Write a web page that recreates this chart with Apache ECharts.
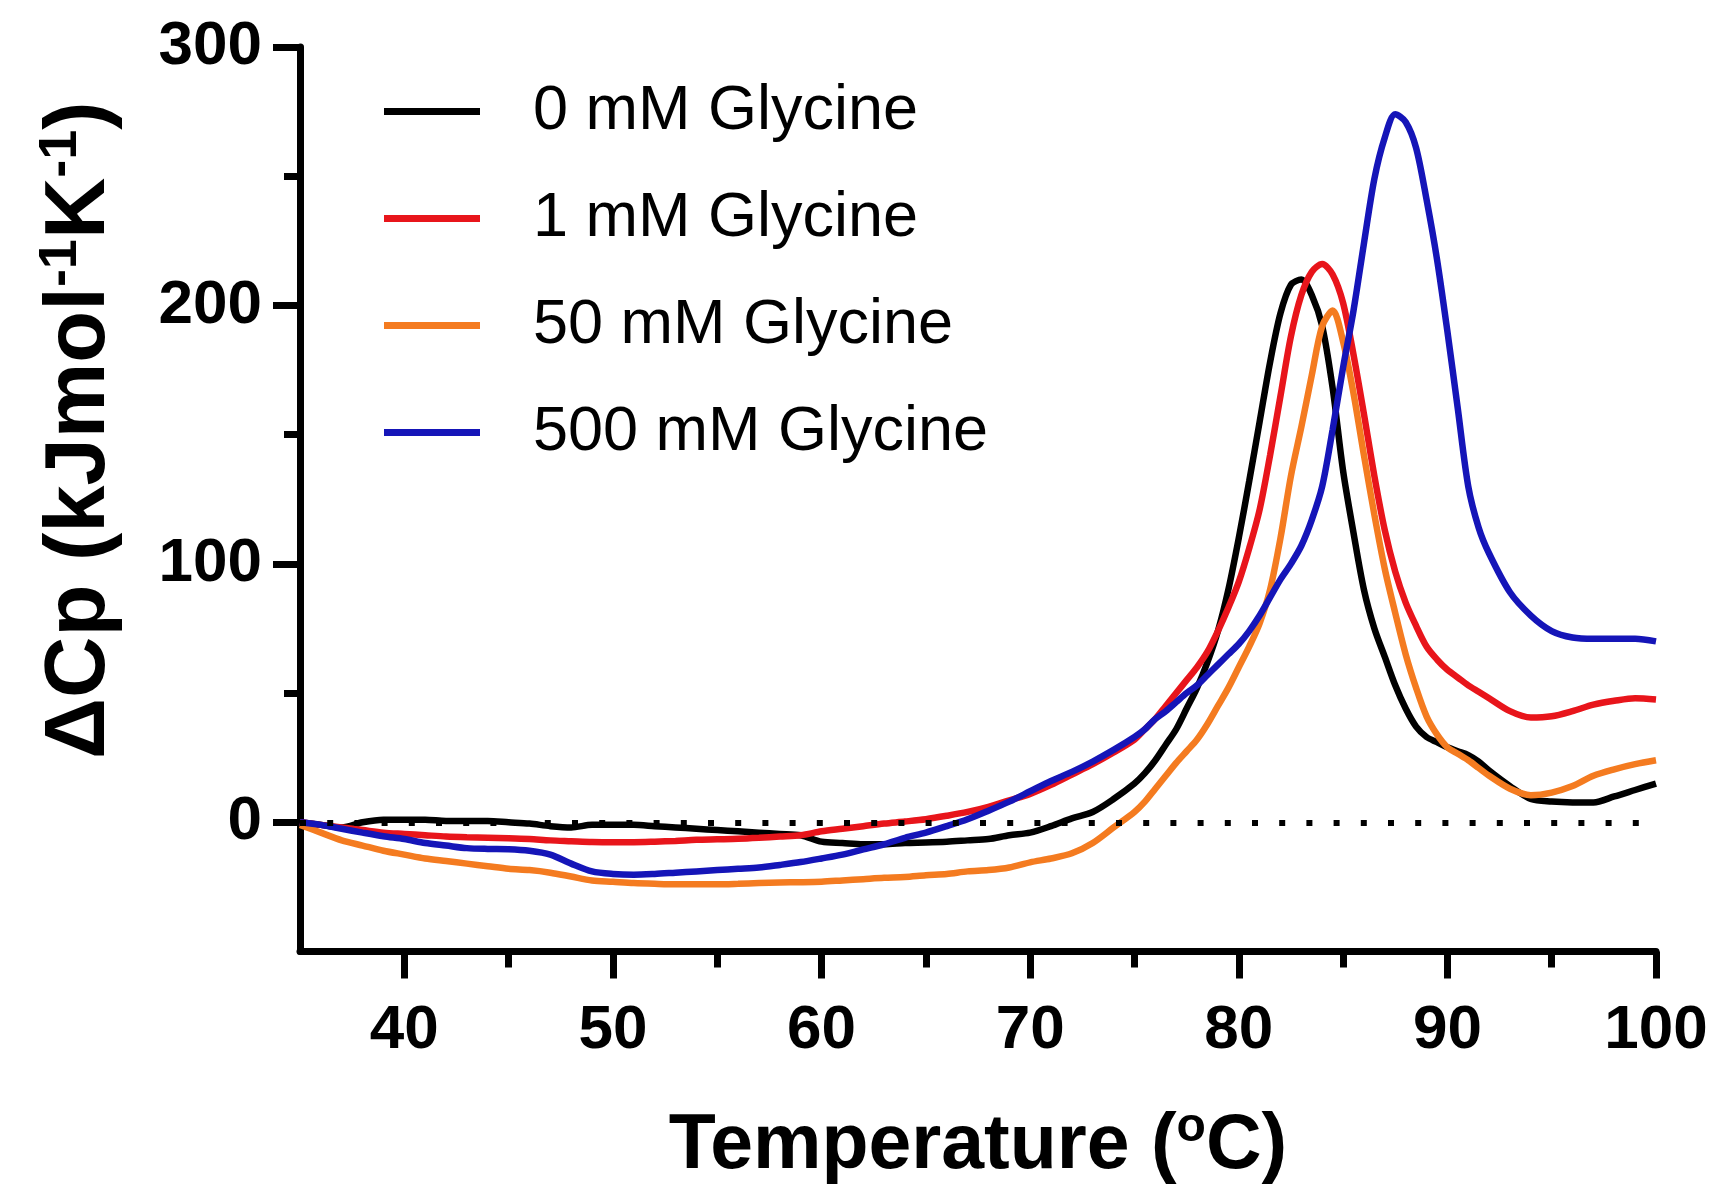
<!DOCTYPE html>
<html>
<head>
<meta charset="utf-8">
<script src="https://cdn.jsdelivr.net/npm/echarts@6/dist/echarts.min.js"></script>
<style>
    html, body { margin: 0; padding: 0; background: #fff; }
    #chart { width: 1722px; height: 1190px; }
</style>
</head>
<body>
<div id="chart"></div>
<script>
// temperature grid (°C) shared by all curves
var temps = [35, 36, 37, 38, 39, 40, 41, 42, 43, 44, 45, 46, 47, 48, 49, 50, 51, 52, 53, 54,
    55, 56, 57, 58, 59, 60, 61, 62, 63, 64, 65, 66, 67, 68, 69, 70, 71, 72, 73, 74, 75,
    75.5, 76, 76.5, 77, 77.5, 78, 78.5, 79, 79.5, 80, 80.5, 81, 81.5, 82, 82.5, 83, 83.5,
    84, 84.5, 85, 85.5, 86, 86.5, 87, 87.5, 88, 88.5, 89, 89.5, 90, 90.5, 91, 91.5, 92,
    93, 94, 95, 96, 97, 98, 99, 100];

// 0 mM Glycine
var cp0 = [0, -1, -2, 0, 1, 1, 1, 0.5, 0.5, 0.5, 0, -0.5, -1.5, -2, -1, -1, -1, -1.5, -2, -2.5,
    -3, -3.5, -4, -4.5, -5, -7.5, -8, -8.5, -8.5, -8, -7.8, -7.5, -7, -6.5, -5, -4, -1.5, 1.5, 4, 9, 15,
    19, 24, 30, 36, 44, 52, 62, 74, 90, 110, 132, 155, 178, 197, 208, 210, 204,
    192, 168, 136, 112, 90, 75, 64, 53, 44, 37, 33, 31, 29, 27.5, 26, 23.5, 20,
    14, 9, 8, 7.7, 7.7, 10, 12.5, 15];

// 1 mM Glycine
var cp1 = [0, -1, -2, -3, -4, -4.5, -5, -5.5, -5.8, -6, -6.2, -6.5, -7, -7.3, -7.6, -7.7, -7.7, -7.5, -7.2, -6.8,
    -6.6, -6.4, -6, -5.5, -5, -3.5, -2.5, -1.5, -0.5, 0.3, 1.2, 2.5, 4, 6, 8.5, 11, 14.5, 18.5, 22.5, 27, 32,
    36, 40, 45, 50, 55, 60, 66, 74, 83, 93, 106, 121, 142, 165, 188, 204, 213,
    216, 212, 201, 181, 158, 134, 113, 97, 85, 76, 68, 63, 59, 56, 53, 50.5, 48,
    43, 40.5, 41, 43, 45.5, 47, 48, 47.5];

// 50 mM Glycine
var cp50 = [-1, -4, -7, -9, -11, -12.5, -14, -15, -16, -17, -18, -18.5, -19.5, -21, -22.5, -23, -23.5, -23.8, -24, -24,
    -24, -23.8, -23.5, -23.3, -23.2, -23, -22.5, -22, -21.5, -21.2, -20.5, -20, -19, -18.5, -17.5, -15.5, -14, -12, -8, -2, 4,
    8, 13, 18, 23, 27.5, 32, 38, 45, 52, 60, 68, 77, 90, 110, 134, 153, 173,
    192, 198, 186, 166, 142, 119, 98, 81, 65, 52, 41, 34, 29, 26.5, 24, 21, 18,
    13, 10.5, 11.5, 14, 18, 20.5, 22.5, 24];

// 500 mM Glycine
var cp500 = [0, -1, -2.5, -4, -5.4, -6.5, -8, -9, -10, -10.3, -10.4, -11, -12.5, -16, -19, -20, -20.3, -20, -19.5, -19,
    -18.5, -18, -17.5, -16.5, -15.4, -14, -12.5, -10.5, -8.5, -6, -4, -1.5, 1.2, 4.5, 8, 12, 16, 19.5, 23.5, 28, 33,
    36, 40, 43, 46.5, 50, 53, 57, 61, 65, 69, 74, 80, 87, 94, 100, 107, 117,
    130, 152, 176, 198, 224, 249, 265, 274, 271, 261, 241, 218, 190, 160, 130, 114, 104,
    89, 80, 74, 71.5, 71, 71, 71, 70];

var seriesNames = ['0 mM Glycine', '1 mM Glycine', '50 mM Glycine', '500 mM Glycine'];
var seriesColors = ['#000000', '#e8151b', '#f47b20', '#1515b8'];
var seriesValues = [cp0, cp1, cp50, cp500];

// axis ticks and labels
var xMajor = [40, 50, 60, 70, 80, 90, 100];
var xMinor = [45, 55, 65, 75, 85, 95];
var yMajor = [0, 100, 200, 300];
var yMinor = [50, 150, 250];

var font = '"Liberation Sans", Arial, sans-serif';

var myChart = echarts.init(document.getElementById('chart'));

// pair each temperature with its value
function toPairs(values) {
    var out = [];
    for (let i = 0; i < temps.length; i++) {
        out.push([temps[i], values[i]]);
    }
    return out;
}

var series = [];
for (let i = 0; i < seriesNames.length; i++) {
    series.push({
        name: seriesNames[i],
        type: 'line',
        data: toPairs(seriesValues[i]),
        showSymbol: false,
        symbol: 'none',
        smooth: 0.3,
        color: seriesColors[i],
        lineStyle: { width: 6.5, color: seriesColors[i] }
    });
}
// dotted zero baseline
series[3].markLine = {
    silent: true,
    symbol: 'none',
    label: { show: false },
    lineStyle: { color: '#000', width: 6, type: [6, 21.2], cap: 'butt' },
    data: [{ yAxis: 0 }]
};

var option = {
    backgroundColor: '#fff',
    animation: false,
    textStyle: { fontFamily: font },
    grid: { left: 300, right: 66, top: 47, bottom: 237, containLabel: false },
    legend: {
        data: seriesNames,
        orient: 'vertical',
        left: 379,
        top: 75,
        icon: 'rect',
        itemWidth: 96,
        itemHeight: 7,
        itemGap: 44,
        textStyle: {
            fontFamily: font,
            fontSize: 63,
            lineHeight: 60,
            color: '#000',
            padding: [0, 0, 0, 48]
        }
    },
    xAxis: [
        {
            type: 'value',
            min: 35,
            max: 100,
            position: 'bottom',
            name: '{a|Temperature (}{s|o}{a|C)}',
            nameLocation: 'middle',
            nameGap: 152,
            nameTextStyle: {
                rich: {
                    a: { fontFamily: font, fontSize: 77, fontWeight: 'bold', color: '#000', lineHeight: 86 },
                    s: { fontFamily: font, fontSize: 48, fontWeight: 'bold', color: '#000', verticalAlign: 'top', lineHeight: 50 }
                }
            },
            axisLine: { onZero: false, lineStyle: { color: '#000', width: 7 } },
            axisTick: { customValues: xMajor, length: 27, lineStyle: { color: '#000', width: 7 } },
            axisLabel: {
                customValues: xMajor,
                margin: 48,
                fontFamily: font,
                fontSize: 62,
                fontWeight: 'bold',
                color: '#000'
            },
            splitLine: { show: false }
        },
        {
            type: 'value',
            min: 35,
            max: 100,
            position: 'bottom',
            axisLine: { show: false, onZero: false },
            axisTick: { customValues: xMinor, length: 16, lineStyle: { color: '#000', width: 7 } },
            axisLabel: { show: false },
            splitLine: { show: false }
        }
    ],
    yAxis: [
        {
            type: 'value',
            min: -50,
            max: 300,
            position: 'left',
            name: '{a|ΔCp (kJmol}{s|-1}{a|K}{s|-1}{a|)}',
            nameLocation: 'middle',
            nameGap: 172,
            nameTextStyle: {
                padding: [0, 0, 0, 138],
                rich: {
                    a: { fontFamily: font, fontSize: 85, fontWeight: 'bold', color: '#000', lineHeight: 94 },
                    s: { fontFamily: font, fontSize: 54, fontWeight: 'bold', color: '#000', verticalAlign: 'top', lineHeight: 54 }
                }
            },
            axisLine: { onZero: false, lineStyle: { color: '#000', width: 7 } },
            axisTick: { customValues: yMajor, length: 27, lineStyle: { color: '#000', width: 7 } },
            axisLabel: {
                customValues: yMajor,
                margin: 38,
                fontFamily: font,
                fontSize: 62,
                fontWeight: 'bold',
                color: '#000'
            },
            splitLine: { show: false }
        },
        {
            type: 'value',
            min: -50,
            max: 300,
            position: 'left',
            axisLine: { show: false, onZero: false },
            axisTick: { customValues: yMinor, length: 16, lineStyle: { color: '#000', width: 7 } },
            axisLabel: { show: false },
            splitLine: { show: false }
        }
    ],
    series: series
};

option && myChart.setOption(option);
</script>
</body>
</html>
